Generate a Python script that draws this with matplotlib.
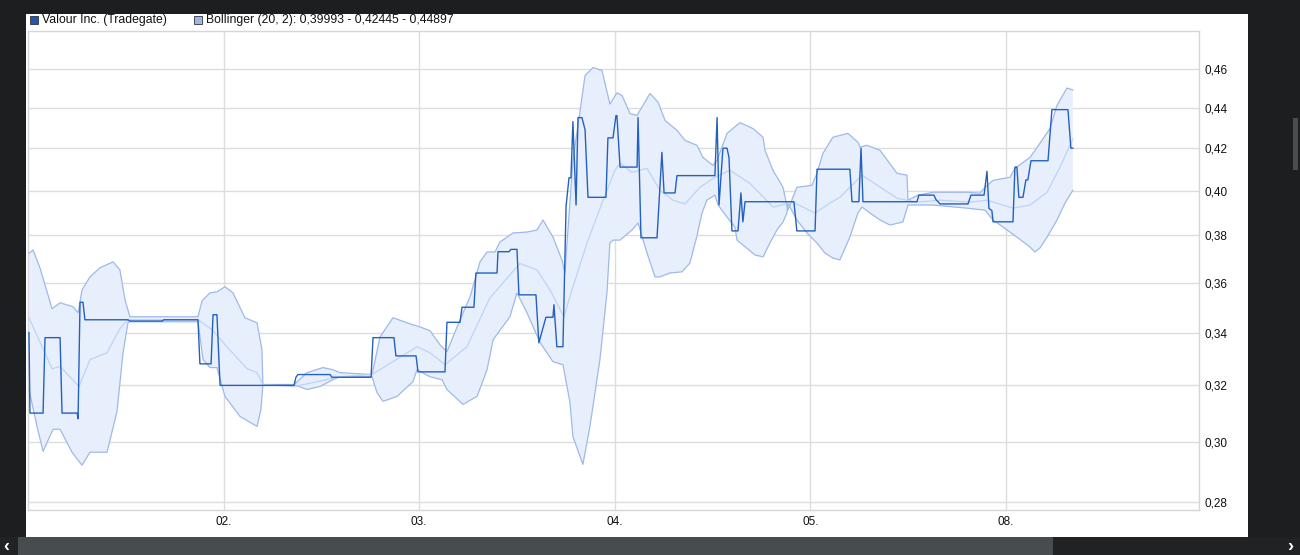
import matplotlib
matplotlib.use("Agg")
import matplotlib.pyplot as plt
from matplotlib.patches import Rectangle
from matplotlib.ticker import FixedLocator, FuncFormatter, NullLocator

# time axis in trading days since the left edge; ticks mark the start of each day
day_ticks = [1, 2, 3, 4, 5]
day_labels = ["02.", "03.", "04.", "05.", "08."]
y_ticks = [0.28, 0.30, 0.32, 0.34, 0.36, 0.38, 0.40, 0.42, 0.44, 0.46]

price_t = [0.005, 0.010, 0.077, 0.087, 0.164, 0.174, 0.251, 0.256, 0.266, 0.281,
           0.291, 0.511, 0.521, 0.685, 0.695, 0.869, 0.879, 0.936, 0.946, 0.966,
           0.982, 1.360, 1.370, 1.380, 1.544, 1.554, 1.754, 1.764, 1.871, 1.881,
           1.984, 1.994, 2.132, 2.142, 2.209, 2.219, 2.280, 2.290, 2.398, 2.403,
           2.459, 2.469, 2.500, 2.510, 2.597, 2.612, 2.648, 2.684, 2.689, 2.704,
           2.735, 2.751, 2.766, 2.776, 2.786, 2.802, 2.812, 2.832, 2.848, 2.863,
           2.955, 2.965, 2.991, 3.006, 3.011, 3.027, 3.114, 3.119, 3.134, 3.216,
           3.241, 3.252, 3.308, 3.318, 3.512, 3.523, 3.533, 3.553, 3.574, 3.584,
           3.599, 3.630, 3.645, 3.655, 3.666, 3.916, 3.931, 4.024, 4.034, 4.202,
           4.213, 4.248, 4.259, 4.269, 4.545, 4.555, 4.632, 4.642, 4.663, 4.806,
           4.821, 4.888, 4.903, 4.913, 4.928, 4.934, 5.036, 5.046, 5.056, 5.066,
           5.087, 5.102, 5.112, 5.128, 5.215, 5.235, 5.317, 5.332, 5.342]
price = [0.340, 0.310, 0.310, 0.338, 0.338, 0.310, 0.310, 0.308, 0.352, 0.352,
         0.345, 0.345, 0.3445, 0.3445, 0.345, 0.345, 0.328, 0.328, 0.347, 0.347,
         0.320, 0.320, 0.323, 0.324, 0.324, 0.323, 0.323, 0.338, 0.338, 0.331,
         0.331, 0.325, 0.325, 0.344, 0.344, 0.350, 0.350, 0.364, 0.364, 0.373,
         0.373, 0.374, 0.374, 0.355, 0.355, 0.336, 0.346, 0.346, 0.351, 0.3345,
         0.3345, 0.393, 0.406, 0.406, 0.433, 0.3935, 0.435, 0.435, 0.429, 0.397,
         0.397, 0.425, 0.425, 0.436, 0.436, 0.411, 0.411, 0.435, 0.379, 0.379,
         0.418, 0.399, 0.399, 0.407, 0.407, 0.435, 0.3935, 0.420, 0.420, 0.4155,
         0.382, 0.382, 0.399, 0.386, 0.395, 0.395, 0.382, 0.382, 0.410, 0.410,
         0.395, 0.395, 0.420, 0.395, 0.395, 0.398, 0.398, 0.396, 0.394, 0.394,
         0.398, 0.398, 0.409, 0.392, 0.391, 0.386, 0.386, 0.411, 0.411, 0.397,
         0.397, 0.405, 0.405, 0.414, 0.414, 0.439, 0.439, 0.420, 0.420]

mid_t = [0.005, 0.123, 0.164, 0.261, 0.317, 0.404, 0.470, 0.511, 0.869, 0.941,
         1.017, 1.120, 1.171, 1.201, 1.365, 1.595, 1.759, 1.989, 2.055, 2.132,
         2.244, 2.362, 2.515, 2.602, 2.669, 2.740, 2.786, 2.858, 2.940, 3.001,
         3.027, 3.088, 3.165, 3.231, 3.298, 3.359, 3.436, 3.512, 3.589, 3.691,
         3.809, 3.911, 4.024, 4.100, 4.151, 4.264, 4.443, 4.545, 4.663, 4.816,
         4.903, 5.036, 5.123, 5.210, 5.276, 5.342]
mid = [0.3458, 0.3262, 0.3270, 0.3196, 0.3296, 0.3322, 0.3415, 0.3450, 0.3450, 0.3411,
       0.3345, 0.3262, 0.3247, 0.3203, 0.3196, 0.3232, 0.3240, 0.3345, 0.3322, 0.3277,
       0.3345, 0.3538, 0.3680, 0.3653, 0.3570, 0.3462, 0.3583, 0.3767, 0.3957, 0.4095,
       0.4128, 0.4085, 0.4104, 0.4002, 0.3957, 0.3940, 0.4016, 0.4062, 0.4095, 0.4034,
       0.3926, 0.3948, 0.3899, 0.3944, 0.3970, 0.4072, 0.3966, 0.3948, 0.3957, 0.3948,
       0.3957, 0.3921, 0.3935, 0.3993, 0.4109, 0.4245]

upper_t = [0.005, 0.026, 0.061, 0.123, 0.164, 0.230, 0.256, 0.276, 0.317, 0.368,
           0.435, 0.470, 0.496, 0.521, 0.869, 0.890, 0.930, 0.966, 1.007, 1.048,
           1.109, 1.171, 1.196, 1.201, 1.360, 1.426, 1.508, 1.559, 1.595, 1.759,
           1.800, 1.866, 1.953, 2.004, 2.055, 2.106, 2.142, 2.209, 2.260, 2.311,
           2.347, 2.388, 2.413, 2.480, 2.551, 2.602, 2.633, 2.684, 2.730, 2.745,
           2.786, 2.822, 2.848, 2.889, 2.935, 2.975, 3.011, 3.037, 3.078, 3.114,
           3.180, 3.221, 3.257, 3.318, 3.359, 3.420, 3.451, 3.502, 3.523, 3.574,
           3.640, 3.706, 3.758, 3.768, 3.809, 3.860, 3.885, 3.931, 4.008, 4.034,
           4.064, 4.115, 4.192, 4.243, 4.254, 4.289, 4.356, 4.443, 4.494, 4.499,
           4.550, 4.627, 4.801, 4.867, 4.893, 4.934, 5.020, 5.046, 5.123, 5.174,
           5.225, 5.261, 5.312, 5.342]
upper = [0.3724, 0.3737, 0.3662, 0.3494, 0.3518, 0.3502, 0.3478, 0.3570, 0.3624, 0.3662,
         0.3687, 0.3653, 0.3530, 0.3462, 0.3462, 0.3526, 0.3558, 0.3562, 0.3583, 0.3558,
         0.3458, 0.3438, 0.3334, 0.3203, 0.3203, 0.3247, 0.3266, 0.3258, 0.3247, 0.3240,
         0.3383, 0.3458, 0.3434, 0.3422, 0.3407, 0.3353, 0.3326, 0.3450, 0.3542, 0.3687,
         0.3729, 0.3729, 0.3772, 0.3811, 0.3815, 0.3824, 0.3868, 0.3793, 0.3695, 0.3640,
         0.4142, 0.4380, 0.4565, 0.4607, 0.4591, 0.4418, 0.4475, 0.4462, 0.4370, 0.4361,
         0.4472, 0.4428, 0.4336, 0.4287, 0.4238, 0.4214, 0.4156, 0.4118, 0.4142, 0.4272,
         0.4325, 0.4296, 0.4253, 0.4190, 0.4095, 0.4016, 0.3912, 0.4016, 0.4025, 0.4081,
         0.4175, 0.4253, 0.4272, 0.4229, 0.4205, 0.4214, 0.4190, 0.4081, 0.4072, 0.3957,
         0.3980, 0.3993, 0.3993, 0.3989, 0.4016, 0.4048, 0.4062, 0.4104, 0.4156, 0.4224,
         0.4296, 0.4411, 0.4500, 0.4490]

lower_t = [0.005, 0.046, 0.077, 0.128, 0.164, 0.225, 0.276, 0.317, 0.404, 0.455,
           0.486, 0.511, 0.521, 0.869, 0.895, 0.930, 0.966, 1.007, 1.084, 1.171,
           1.191, 1.201, 1.360, 1.426, 1.493, 1.559, 1.595, 1.759, 1.784, 1.815,
           1.887, 1.968, 1.989, 2.055, 2.117, 2.142, 2.224, 2.296, 2.347, 2.378,
           2.464, 2.500, 2.551, 2.618, 2.684, 2.735, 2.771, 2.786, 2.837, 2.873,
           2.924, 2.960, 2.975, 2.991, 3.027, 3.088, 3.119, 3.165, 3.206, 3.231,
           3.282, 3.344, 3.384, 3.420, 3.446, 3.471, 3.512, 3.528, 3.574, 3.614,
           3.625, 3.655, 3.717, 3.758, 3.793, 3.829, 3.860, 3.880, 3.885, 3.931,
           3.983, 4.034, 4.075, 4.115, 4.151, 4.202, 4.243, 4.264, 4.305, 4.356,
           4.407, 4.473, 4.499, 4.550, 4.627, 4.801, 4.893, 4.934, 4.985, 5.056,
           5.123, 5.148, 5.174, 5.210, 5.261, 5.302, 5.342]
lower = [0.3185, 0.3053, 0.2967, 0.3043, 0.3043, 0.2964, 0.2920, 0.2964, 0.2964, 0.3106,
         0.3322, 0.3438, 0.3442, 0.3442, 0.3296, 0.3266, 0.3266, 0.3160, 0.3088, 0.3053,
         0.3113, 0.3203, 0.3203, 0.3185, 0.3196, 0.3221, 0.3232, 0.3232, 0.3174, 0.3142,
         0.3160, 0.3214, 0.3258, 0.3232, 0.3221, 0.3185, 0.3131, 0.3160, 0.3258, 0.3372,
         0.3462, 0.3558, 0.3478, 0.3361, 0.3288, 0.3277, 0.3138, 0.3018, 0.2923, 0.3053,
         0.3296, 0.3558, 0.3767, 0.3780, 0.3780, 0.3824, 0.3855, 0.3724, 0.3624, 0.3624,
         0.3640, 0.3645, 0.3682, 0.3797, 0.3899, 0.3957, 0.3980, 0.3935, 0.3881, 0.3837,
         0.3780, 0.3759, 0.3716, 0.3708, 0.3767, 0.3824, 0.3859, 0.3899, 0.3944, 0.3868,
         0.3811, 0.3767, 0.3724, 0.3703, 0.3695, 0.3793, 0.3899, 0.3926, 0.3899, 0.3868,
         0.3846, 0.3859, 0.3935, 0.3935, 0.3935, 0.3921, 0.3912, 0.3868, 0.3837, 0.3793,
         0.3750, 0.3729, 0.3746, 0.3793, 0.3868, 0.3944, 0.4002]

series_label = "Valour Inc. (Tradegate)"
band_label = "Bollinger (20, 2): 0,39993 - 0,42445 - 0,44897"

plt.rcParams['font.family'] = ['Liberation Sans', 'DejaVu Sans']

W, H = 1300, 555
fig = plt.figure(figsize=(W / 100, H / 100), dpi=100, facecolor="#1d1e20")

def fbox(x0, y0, x1, y1):
    # pixel box (top-left origin) -> figure fraction rect
    return (x0 / W, 1 - y1 / H, (x1 - x0) / W, (y1 - y0) / H)

# page chrome: white panel and scrollbars, kept behind the axes
for box, col in [((26, 14, 1248, 537), "white"),
                 ((0, 537, 1300, 555), "#202224"),
                 ((18, 537, 1053, 555), "#474c4f"),
                 ((1293, 118, 1298, 170), "#4a4d50")]:
    x, y, w, h = fbox(*box)
    fig.patches.append(Rectangle((x, y), w, h, transform=fig.transFigure,
                                 facecolor=col, edgecolor="none", zorder=-5))
fig.text(6 / W, 1 - 546 / H, "‹", color="white", fontsize=13, fontweight="bold",
         ha="center", va="center")
fig.text(1290 / W, 1 - 546 / H, "›", color="white", fontsize=13, fontweight="bold",
         ha="center", va="center")

ax = fig.add_axes(fbox(28, 31, 1199, 510))
ax.set_facecolor("white")
ax.set_zorder(1)

# bollinger band
poly_t = upper_t + lower_t[::-1]
poly_v = upper + lower[::-1]
ax.fill(poly_t, poly_v, facecolor="#e8effc", edgecolor="none", zorder=2)
ax.plot(upper_t, upper, color="#9fb9e8", lw=0.9, zorder=3)
ax.plot(lower_t, lower, color="#9fb9e8", lw=0.9, zorder=3)
ax.plot(mid_t, mid, color="#bcd3f5", lw=0.9, zorder=3)

ax.plot(price_t, price, color="#2360c0", lw=1.0, zorder=4)

ax.set_yscale("log")
ax.set_ylim(0.2774, 0.4804)
ax.set_xlim(0, 5.987)
ax.yaxis.set_major_locator(FixedLocator(y_ticks))
ax.yaxis.set_minor_locator(NullLocator())
ax.yaxis.set_major_formatter(FuncFormatter(lambda v, p: ("%.2f" % v).replace(".", ",")))
ax.set_xticks(day_ticks)
ax.set_xticklabels(day_labels)
ax.yaxis.tick_right()
ax.tick_params(axis="both", length=0, labelsize=8.5, colors="#111111")
ax.tick_params(axis="y", pad=4)
ax.tick_params(axis="x", pad=4)
ax.grid(True, color="#dddddd", lw=1.0, zorder=1)
ax.set_axisbelow(True)
for s in ax.spines.values():
    s.set_color("#d6d6d6")
    s.set_linewidth(1.0)

# legend row
for (x0, col, txt, tx) in [(30, "#1f56b8", series_label, 42),
                           (194, "#9fb5e3", band_label, 206)]:
    x, y, w, h = fbox(x0, 16, x0 + 8, 24)
    fig.patches.append(Rectangle((x, y), w, h, transform=fig.transFigure,
                                 facecolor=col, edgecolor="#333333", lw=0.6, zorder=3))
    fig.text(tx / W, 1 - 20 / H, txt, fontsize=8.8, color="#111111",
             ha="left", va="center")

plt.savefig("out.png", dpi=100, facecolor=fig.get_facecolor())
